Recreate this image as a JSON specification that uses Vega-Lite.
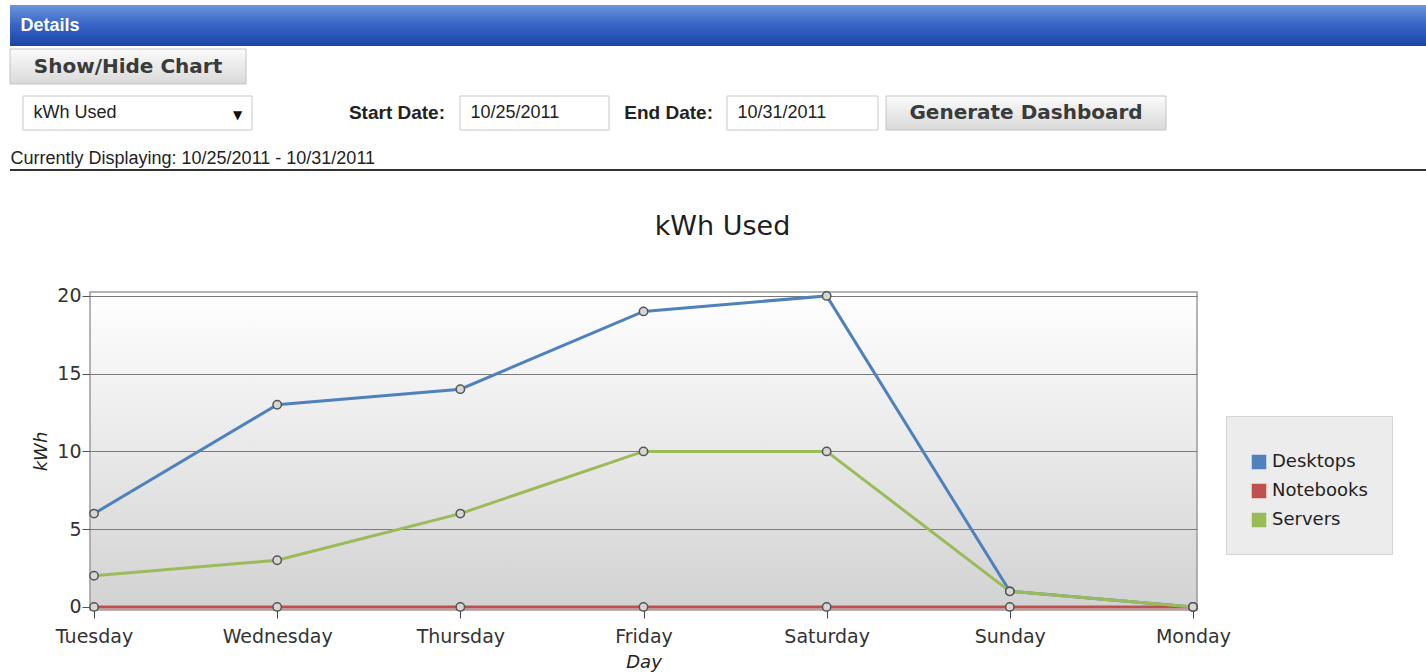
{
  "$schema": "https://vega.github.io/schema/vega-lite/v6.json",
  "padding": {"top": 5, "left": 0, "right": 0, "bottom": 0},
  "background": "#ffffff",
  "spacing": 0,
  "config": {"view": {"stroke": null}, "concat": {"spacing": 0}, "font": "DejaVu Sans"},
  "resolve": {"scale": {"color": "shared"}, "legend": {"color": "shared"}},
  "vconcat": [
    {"hconcat": [
      {"width": 10, "height": 41, "data": {"values": [{}]}, "mark": {"type": "text", "text": "", "fontSize": 1}},
      {"width": 80, "height": 41, "data": {"values": [{}]}, "layer": [
        {"mark": {"type": "rect", "fill": {"gradient": "linear", "x1": 0, "y1": 0, "x2": 0, "y2": 1, "stops": [{"offset": 0, "color": "#6b94dd"}, {"offset": 0.45, "color": "#3a68c8"}, {"offset": 1, "color": "#1b44a6"}]}, "strokeWidth": 0}},
        {"mark": {"type": "text", "text": "Details", "color": "#ffffff", "font": "Liberation Sans", "fontWeight": "bold", "fontSize": 18}}
      ]},
      {"width": 1336, "height": 41, "data": {"values": [{}]}, "mark": {"type": "rect", "fill": {"gradient": "linear", "x1": 0, "y1": 0, "x2": 0, "y2": 1, "stops": [{"offset": 0, "color": "#6b94dd"}, {"offset": 0.45, "color": "#3a68c8"}, {"offset": 1, "color": "#1b44a6"}]}, "strokeWidth": 0}}
    ], "bounds": "flush", "spacing": 0},
    {"width": 1, "height": 2, "data": {"values": [{}]}, "mark": {"type": "text", "text": "", "fontSize": 1}},
    {"hconcat": [
      {"width": 10, "height": 35, "data": {"values": [{}]}, "mark": {"type": "text", "text": "", "fontSize": 1}},
      {"width": 236, "height": 35, "data": {"values": [{}]}, "layer": [
        {"mark": {"type": "rect", "fill": {"gradient": "linear", "x1": 0, "y1": 0, "x2": 0, "y2": 1, "stops": [{"offset": 0, "color": "#fbfbfb"}, {"offset": 1, "color": "#d9d9d9"}]}, "stroke": "#c4c4c4", "strokeWidth": 1}},
        {"mark": {"type": "text", "text": "Show/Hide Chart", "color": "#3a3a3a", "font": "DejaVu Sans", "fontWeight": "bold", "fontSize": 20}}
      ]}
    ], "bounds": "flush", "spacing": 0},
    {"width": 1, "height": 10, "data": {"values": [{}]}, "mark": {"type": "text", "text": "", "fontSize": 1}},
    {"hconcat": [
      {"width": 23, "height": 34, "data": {"values": [{}]}, "mark": {"type": "text", "text": "", "fontSize": 1}},
      {"width": 229, "height": 34, "data": {"values": [{}]}, "layer": [
        {"mark": {"type": "rect", "fill": "#ffffff", "stroke": "#c8c8c8", "strokeWidth": 1}},
        {"mark": {"type": "text", "text": "kWh Used", "align": "left", "dx": -104, "color": "#222222", "font": "Liberation Sans", "fontSize": 18}},
        {"mark": {"type": "text", "text": "▼", "dx": 100, "dy": 2, "color": "#111111", "font": "DejaVu Sans", "fontSize": 12}}
      ]},
      {"width": 208, "height": 34, "data": {"values": [{}]}, "mark": {"type": "text", "text": "Start Date:", "align": "right", "dx": 89, "color": "#222222", "font": "Liberation Sans", "fontWeight": "bold", "fontSize": 19}},
      {"width": 149, "height": 34, "data": {"values": [{}]}, "layer": [
        {"mark": {"type": "rect", "fill": "#ffffff", "stroke": "#c8c8c8", "strokeWidth": 1}},
        {"mark": {"type": "text", "text": "10/25/2011", "align": "left", "dx": -64, "color": "#222222", "font": "Liberation Sans", "fontSize": 18}}
      ]},
      {"width": 118, "height": 34, "data": {"values": [{}]}, "mark": {"type": "text", "text": "End Date:", "align": "right", "dx": 45, "color": "#222222", "font": "Liberation Sans", "fontWeight": "bold", "fontSize": 19}},
      {"width": 151, "height": 34, "data": {"values": [{}]}, "layer": [
        {"mark": {"type": "rect", "fill": "#ffffff", "stroke": "#c8c8c8", "strokeWidth": 1}},
        {"mark": {"type": "text", "text": "10/31/2011", "align": "left", "dx": -65, "color": "#222222", "font": "Liberation Sans", "fontSize": 18}}
      ]},
      {"width": 8, "height": 34, "data": {"values": [{}]}, "mark": {"type": "text", "text": "", "fontSize": 1}},
      {"width": 280, "height": 34, "data": {"values": [{}]}, "layer": [
        {"mark": {"type": "rect", "fill": {"gradient": "linear", "x1": 0, "y1": 0, "x2": 0, "y2": 1, "stops": [{"offset": 0, "color": "#fbfbfb"}, {"offset": 1, "color": "#d9d9d9"}]}, "stroke": "#c4c4c4", "strokeWidth": 1}},
        {"mark": {"type": "text", "text": "Generate Dashboard", "color": "#3a3a3a", "font": "DejaVu Sans", "fontWeight": "bold", "fontSize": 20}}
      ]}
    ], "bounds": "flush", "spacing": 0},
    {"width": 1, "height": 18, "data": {"values": [{}]}, "mark": {"type": "text", "text": "", "fontSize": 1}},
    {"hconcat": [
      {"width": 10, "height": 20, "data": {"values": [{}]}, "mark": {"type": "text", "text": "", "fontSize": 1}},
      {"width": 1, "height": 20, "data": {"values": [{}]}, "mark": {"type": "text", "text": "Currently Displaying: 10/25/2011 - 10/31/2011", "align": "left", "color": "#222222", "font": "Liberation Sans", "fontSize": 18}}
    ], "bounds": "flush", "spacing": 0},
    {"hconcat": [
      {"width": 10, "height": 2, "data": {"values": [{}]}, "mark": {"type": "text", "text": "", "fontSize": 1}},
      {"width": 1416, "height": 2, "data": {"values": [{}]}, "mark": {"type": "rect", "fill": "#333333", "strokeWidth": 0}}
    ], "bounds": "flush", "spacing": 0},
    {"width": 1, "height": 41, "data": {"values": [{}]}, "mark": {"type": "text", "text": "", "fontSize": 1}},
    {
      "spacing": 0,
      "hconcat": [
        {"width": 32, "height": 1, "data": {"values": [{}]}, "mark": {"type": "text", "text": "", "fontSize": 1}},
        {
          "width": 1107,
          "height": 318,
          "view": {"fill": {"gradient": "linear", "x1": 0, "y1": 0, "x2": 0, "y2": 1, "stops": [{"offset": 0, "color": "#ffffff"}, {"offset": 1, "color": "#d2d2d2"}]}, "stroke": "#9a9a9a", "strokeWidth": 1.5},
          "title": {"text": "kWh Used", "font": "DejaVu Sans", "fontSize": 27, "fontWeight": "normal", "color": "#1e1e1e", "offset": 46, "dx": 79, "anchor": "middle"},
          "data": {"values": [
            {"day": "Tuesday", "device": "Desktops", "kwh": 6},
            {"day": "Wednesday", "device": "Desktops", "kwh": 13},
            {"day": "Thursday", "device": "Desktops", "kwh": 14},
            {"day": "Friday", "device": "Desktops", "kwh": 19},
            {"day": "Saturday", "device": "Desktops", "kwh": 20},
            {"day": "Sunday", "device": "Desktops", "kwh": 1},
            {"day": "Monday", "device": "Desktops", "kwh": 0},
            {"day": "Tuesday", "device": "Notebooks", "kwh": 0},
            {"day": "Wednesday", "device": "Notebooks", "kwh": 0},
            {"day": "Thursday", "device": "Notebooks", "kwh": 0},
            {"day": "Friday", "device": "Notebooks", "kwh": 0},
            {"day": "Saturday", "device": "Notebooks", "kwh": 0},
            {"day": "Sunday", "device": "Notebooks", "kwh": 0},
            {"day": "Monday", "device": "Notebooks", "kwh": 0},
            {"day": "Tuesday", "device": "Servers", "kwh": 2},
            {"day": "Wednesday", "device": "Servers", "kwh": 3},
            {"day": "Thursday", "device": "Servers", "kwh": 6},
            {"day": "Friday", "device": "Servers", "kwh": 10},
            {"day": "Saturday", "device": "Servers", "kwh": 10},
            {"day": "Sunday", "device": "Servers", "kwh": 1},
            {"day": "Monday", "device": "Servers", "kwh": 0}
          ]},
          "encoding": {
            "x": {
              "field": "day", "type": "ordinal",
              "sort": ["Tuesday", "Wednesday", "Thursday", "Friday", "Saturday", "Sunday", "Monday"],
              "scale": {"type": "point", "padding": 0.022},
              "axis": {"title": "Day", "titleFontStyle": "italic", "titleFont": "DejaVu Sans", "titleFontSize": 18, "titleFontWeight": "normal", "titleColor": "#222222", "titlePadding": 7, "labelAngle": 0, "grid": false, "domain": false, "tickSize": 8, "tickColor": "#444444", "labelFont": "DejaVu Sans", "labelFontSize": 19, "labelColor": "#333333", "labelPadding": 9}
            },
            "y": {
              "field": "kwh", "type": "quantitative",
              "scale": {"domain": [-0.2, 20.25], "nice": false, "zero": false},
              "axis": {"title": "kWh", "titleFontStyle": "italic", "titleFont": "DejaVu Sans", "titleFontSize": 18, "titleFontWeight": "normal", "titleColor": "#222222", "titlePadding": 6, "values": [0, 5, 10, 15, 20], "grid": true, "gridColor": "#7a7a7a", "gridWidth": 1, "domain": false, "tickSize": 8, "tickColor": "#555555", "labelFont": "DejaVu Sans", "labelFontSize": 19, "labelColor": "#333333", "labelPadding": 1}
            }
          },
          "layer": [
            {
              "mark": {"type": "line", "strokeWidth": 3},
              "encoding": {
                "color": {
                  "field": "device", "type": "nominal",
                  "scale": {"domain": ["Desktops", "Notebooks", "Servers"], "range": ["#4f81bd", "#c0504d", "#9bbb59"]},
                  "legend": {
                    "orient": "none", "legendX": 1226, "legendY": 411, "title": " ", "titleFontSize": 9, "titlePadding": 4,
                    "symbolType": "square", "symbolSize": 170, "symbolStrokeWidth": 1.5,
                    "labelFont": "DejaVu Sans", "labelFontSize": 18, "labelColor": "#222222", "labelOffset": 4,
                    "padding": 24, "rowPadding": 9, "fillColor": "#ececec", "strokeColor": "#d5d5d5",
                    "encode": {"symbols": {"update": {"fill": {"scale": "color", "field": "value"}, "fillOpacity": {"value": 1}, "stroke": {"value": "#222222"}, "strokeWidth": {"value": 1.5}}}}
                  }
                }
              }
            },
            {
              "mark": {"type": "point", "shape": "circle", "size": 70, "filled": true, "fill": "#d6d6d6", "stroke": "#555555", "strokeWidth": 1.5, "opacity": 1}
            }
          ]
        }
      ]
    }
  ]
}
